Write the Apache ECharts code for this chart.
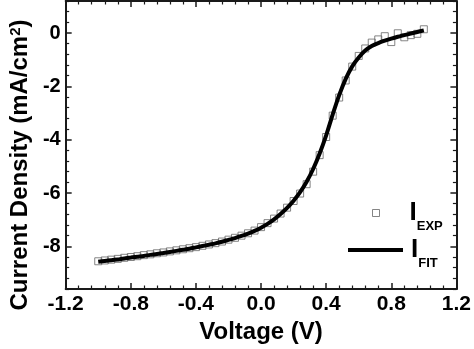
<!DOCTYPE html>
<html>
<head>
<meta charset="utf-8">
<script src="https://cdn.jsdelivr.net/npm/echarts@6/dist/echarts.min.js"></script>
<style>
html,body{margin:0;padding:0;background:#fff;}
#chart{width:474px;height:349px;}
</style>
</head>
<body>
<div id="chart"></div>
<script>
// Voltage (V)
var voltage = [-1.00,-0.96,-0.92,-0.88,-0.84,-0.80,-0.76,-0.72,-0.68,-0.64,-0.60,-0.56,-0.52,-0.48,-0.44,-0.40,-0.36,-0.32,-0.28,-0.24,-0.20,-0.16,-0.12,-0.08,-0.04,0.00,0.04,0.08,0.12,0.16,0.20,0.24,0.28,0.32,0.36,0.40,0.44,0.48,0.52,0.56,0.60,0.64,0.68,0.72,0.76,0.80,0.84,0.88,0.92,0.96,1.00];
// Experimental current density (mA/cm^2)
var jExp = [-8.56,-8.53,-8.50,-8.47,-8.43,-8.40,-8.37,-8.33,-8.30,-8.26,-8.23,-8.19,-8.15,-8.11,-8.07,-8.03,-7.98,-7.93,-7.88,-7.82,-7.75,-7.68,-7.60,-7.51,-7.41,-7.28,-7.13,-6.96,-6.77,-6.55,-6.30,-6.02,-5.67,-5.20,-4.58,-3.90,-3.10,-2.42,-1.78,-1.26,-0.86,-0.58,-0.36,-0.24,-0.12,-0.34,-0.01,-0.16,-0.08,-0.03,0.14];
// Fitted current density (mA/cm^2)
var jFit = [-8.58,-8.55,-8.52,-8.49,-8.46,-8.42,-8.39,-8.36,-8.32,-8.29,-8.25,-8.21,-8.17,-8.13,-8.09,-8.04,-7.99,-7.94,-7.89,-7.83,-7.76,-7.69,-7.61,-7.52,-7.42,-7.30,-7.16,-6.99,-6.79,-6.56,-6.29,-5.97,-5.58,-5.10,-4.52,-3.84,-3.06,-2.33,-1.72,-1.25,-0.92,-0.66,-0.49,-0.38,-0.29,-0.21,-0.14,-0.08,-0.02,0.04,0.10];
// Axis tick labels
var xTicks = [-1.2,-0.8,-0.4,0.0,0.4,0.8,1.2];
var yTicks = [-8,-6,-4,-2,0];
var yMin = -9.6, yMax = 1.2, yMinorStep = 0.4;

var yMinor = [];
for (var k = Math.round(yMin / yMinorStep); k * yMinorStep <= yMax + 1e-9; k++) {
  var v = Math.round(k * yMinorStep * 10) / 10;
  if (yTicks.indexOf(v) < 0) yMinor.push(v);
}

var FONT = "'Liberation Sans', Arial, sans-serif";
var AX = '#1a1a1a';

function xAxisDef(pos, showLabel) {
  return {
    type: 'value', position: pos, min: xTicks[0], max: xTicks[xTicks.length - 1], interval: 0.4,
    axisLine: {show: true, onZero: false, lineStyle: {color: AX, width: 2}},
    axisTick: {show: true, inside: true, length: 6, lineStyle: {color: AX, width: 1.5}},
    minorTick: {show: true, splitNumber: 5, length: 3.5, lineStyle: {color: AX, width: 1.2}},
    splitLine: {show: false},
    axisLabel: {show: showLabel, margin: 5, color: '#000', fontFamily: FONT, fontWeight: 'bold', fontSize: 21,
      formatter: function (v) { return v.toFixed(1); }},
    name: showLabel ? 'Voltage (V)' : '',
    nameLocation: 'middle', nameGap: 31,
    nameTextStyle: {color: '#000', fontFamily: FONT, fontWeight: 'bold', fontSize: 24}
  };
}
function yAxisDef(pos, showLabel, minor) {
  return {
    type: 'value', position: pos, min: yMin, max: yMax,
    axisLine: {show: !minor, onZero: false, lineStyle: {color: AX, width: 2}},
    axisTick: {show: true, inside: true, length: minor ? 3.5 : 6, customValues: minor ? yMinor : yTicks,
      lineStyle: {color: AX, width: minor ? 1.2 : 1.5}},
    splitLine: {show: false},
    axisLabel: {show: showLabel, customValues: yTicks, margin: 5, color: '#000', fontFamily: FONT, fontWeight: 'bold', fontSize: 20,
      formatter: function (v) { return String(Math.round(v)); }},
    name: showLabel ? '{a|Current Density (mA/cm}{s|2}{a|)}' : '',
    nameLocation: 'middle', nameGap: 31,
    nameTextStyle: {color: '#000', fontFamily: FONT, fontWeight: 'bold', fontSize: 24, padding: [0, 40, 0, 0],
      rich: {
        a: {fontFamily: FONT, fontWeight: 'bold', fontSize: 24, lineHeight: 26, verticalAlign: 'top', color: '#000'},
        s: {fontFamily: FONT, fontWeight: 'bold', fontSize: 15, lineHeight: 14, verticalAlign: 'top', color: '#000'}
      }}
  };
}

var chart = echarts.init(document.getElementById('chart'), null, {renderer: 'canvas'});
var expData = voltage.map(function (v, i) { return [v, jExp[i]]; });
var fitData = voltage.map(function (v, i) { return [v, jFit[i]]; });

var legendRich = {
  i: {fontFamily: FONT, fontWeight: 'bold', fontSize: 26, lineHeight: 26, verticalAlign: 'top', color: '#000'},
  s: {fontFamily: FONT, fontWeight: 'bold', fontSize: 13, lineHeight: 13, verticalAlign: 'top', padding: [20, 0, 0, 0], color: '#000'}
};

chart.setOption({
  animation: false,
  backgroundColor: '#fff',
  grid: {left: 64, right: 15, top: 1, bottom: 57, containLabel: false},
  xAxis: [xAxisDef('bottom', true), xAxisDef('top', false)],
  yAxis: [yAxisDef('left', true, false), yAxisDef('left', false, true),
          yAxisDef('right', false, false), yAxisDef('right', false, true)],
  legend: [
    {data: ['EXP'], left: 372, top: 200, padding: 0, icon: 'rect', itemWidth: 7, itemHeight: 7,
     itemStyle: {color: 'rgba(0,0,0,0)', borderColor: '#666', borderWidth: 1},
     formatter: function (n) { return '{i|I}{s|' + n + '}'; },
     textStyle: {rich: {i: Object.assign({}, legendRich.i, {padding: [0, 0, 0, 25]}), s: legendRich.s}}},
    {data: ['FIT'], left: 348, top: 237, padding: 0, icon: 'rect', itemWidth: 55, itemHeight: 4,
     itemStyle: {color: '#000', borderWidth: 0},
     formatter: function (n) { return '{i|I}{s|' + n + '}'; },
     textStyle: {rich: {i: Object.assign({}, legendRich.i, {padding: [0, 0, 0, 3]}), s: legendRich.s}}}
  ],
  series: [
    {name: 'EXP', type: 'scatter', xAxisIndex: 0, yAxisIndex: 0, data: expData, symbol: 'rect', symbolSize: 7,
     itemStyle: {color: 'rgba(0,0,0,0)', borderColor: '#666', borderWidth: 1}, z: 2},
    {name: 'FIT', type: 'line', xAxisIndex: 0, yAxisIndex: 0, data: fitData, showSymbol: false, symbol: 'none',
     smooth: 0.3, lineStyle: {color: '#000', width: 4}, itemStyle: {color: '#000'}, z: 3}
  ]
});
</script>
</body>
</html>
